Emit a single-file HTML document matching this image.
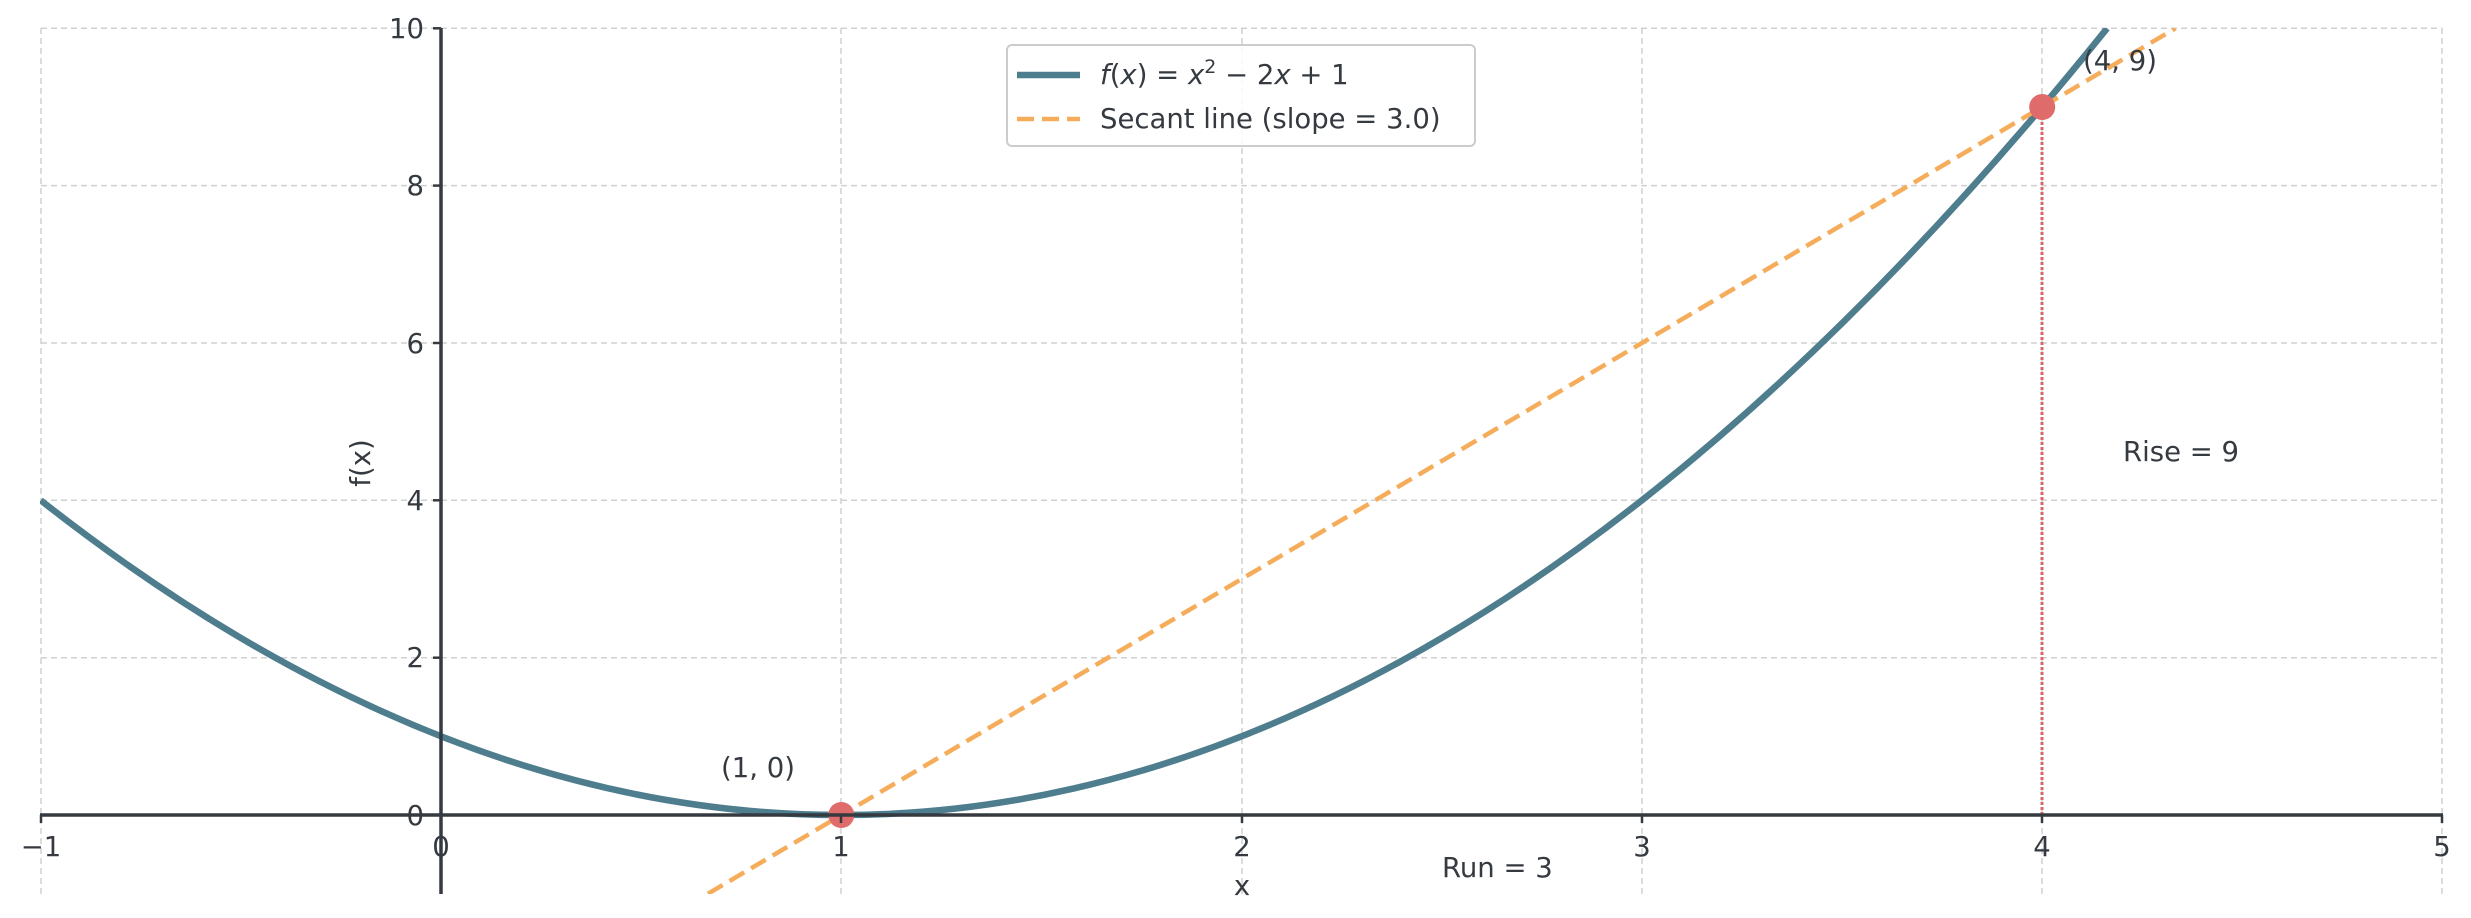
<!DOCTYPE html>
<html><head><meta charset="utf-8"><style>
html,body{margin:0;padding:0;background:#fff}
svg{display:block;font-family:"DejaVu Sans","Liberation Sans",sans-serif}
</style></head><body>
<svg width="2471" height="918" viewBox="0 0 2471 918" xmlns="http://www.w3.org/2000/svg">
<defs><clipPath id="c"><rect x="40" y="28" width="2403" height="866"/></clipPath></defs>
<g stroke="#d0d0d0" stroke-width="1.5" stroke-dasharray="6,4" fill="none">
<line x1="41" y1="28" x2="41" y2="894"/><line x1="841" y1="28" x2="841" y2="894"/>
<line x1="1242" y1="28" x2="1242" y2="894"/><line x1="1642" y1="28" x2="1642" y2="894"/>
<line x1="2042" y1="28" x2="2042" y2="894"/><line x1="2442" y1="28" x2="2442" y2="894"/>
<line x1="41" y1="28.3" x2="2442" y2="28.3"/><line x1="41" y1="185.6" x2="2442" y2="185.6"/>
<line x1="41" y1="343" x2="2442" y2="343"/><line x1="41" y1="500.3" x2="2442" y2="500.3"/>
<line x1="41" y1="657.7" x2="2442" y2="657.7"/>
</g>
<g clip-path="url(#c)">
<path d="M40.7,500.3 Q1073.9,1312.6 2107.1,28.3" stroke="#4e7d8e" stroke-width="6.5" fill="none"/>
<line x1="708" y1="893.7" x2="2175.5" y2="28.3" stroke="#f5ad5b" stroke-width="4.5" stroke-dasharray="17,8"/>
<line x1="2042" y1="815" x2="2042" y2="107" stroke="#d9666a" stroke-width="3" stroke-dasharray="3,2"/>
</g>
<circle cx="841.3" cy="815" r="13" fill="#df6b6b"/>
<circle cx="2042.2" cy="107" r="13" fill="#df6b6b"/>
<line x1="441" y1="28" x2="441" y2="894" stroke="#343a40" stroke-width="3.5"/>
<line x1="40" y1="815" x2="2443" y2="815" stroke="#343a40" stroke-width="3.5"/>
<g stroke="#343a40" stroke-width="2.5">
<line x1="41" y1="815" x2="41" y2="823"/><line x1="841" y1="815" x2="841" y2="823"/>
<line x1="1242" y1="815" x2="1242" y2="823"/><line x1="1642" y1="815" x2="1642" y2="823"/>
<line x1="2042" y1="815" x2="2042" y2="823"/><line x1="2442" y1="815" x2="2442" y2="823"/>
<line x1="433" y1="28.3" x2="441" y2="28.3"/><line x1="433" y1="185.6" x2="441" y2="185.6"/>
<line x1="433" y1="343" x2="441" y2="343"/><line x1="433" y1="500.3" x2="441" y2="500.3"/>
<line x1="433" y1="657.7" x2="441" y2="657.7"/><line x1="433" y1="815" x2="441" y2="815"/>
</g>
<g fill="#343a40" font-size="27.5" text-anchor="middle">
<text x="41" y="856">−1</text><text x="441" y="856">0</text><text x="841" y="856">1</text>
<text x="1242" y="856">2</text><text x="1642" y="856">3</text><text x="2042" y="856">4</text><text x="2442" y="856">5</text>
</g>
<g fill="#343a40" font-size="27.5" text-anchor="end">
<text x="424" y="38">10</text><text x="424" y="195">8</text><text x="424" y="353">6</text>
<text x="424" y="510">4</text><text x="424" y="667">2</text><text x="424" y="825">0</text>
</g>
<text x="1242" y="895" fill="#343a40" font-size="27.5" text-anchor="middle">x</text>
<text transform="translate(370,463) rotate(-90)" fill="#343a40" font-size="27.5" text-anchor="middle">f(x)</text>
<g fill="#343a40" font-size="27.5">
<text x="721" y="777">(1, 0)</text>
<text x="2083" y="70">(4, 9)</text>
<text x="2123" y="461">Rise = 9</text>
<text x="1442" y="877">Run = 3</text>
</g>
<rect x="1007" y="45" width="468" height="101" rx="5" fill="#fff" fill-opacity="0.85" stroke="#cccccc" stroke-width="2"/>
<line x1="1017" y1="75" x2="1080" y2="75" stroke="#4e7d8e" stroke-width="6.5"/>
<line x1="1017" y1="119" x2="1080" y2="119" stroke="#f5ad5b" stroke-width="4.5" stroke-dasharray="17,8"/>
<text x="1100" y="84" fill="#343a40" font-size="27.5"><tspan font-style="italic">f</tspan>(<tspan font-style="italic">x</tspan>) = <tspan font-style="italic">x</tspan><tspan font-size="19" dy="-11">2</tspan><tspan dy="11"> − 2</tspan><tspan font-style="italic">x</tspan> + 1</text>
<text x="1100" y="128" fill="#343a40" font-size="27.5">Secant line (slope = 3.0)</text>
</svg>
</body></html>
